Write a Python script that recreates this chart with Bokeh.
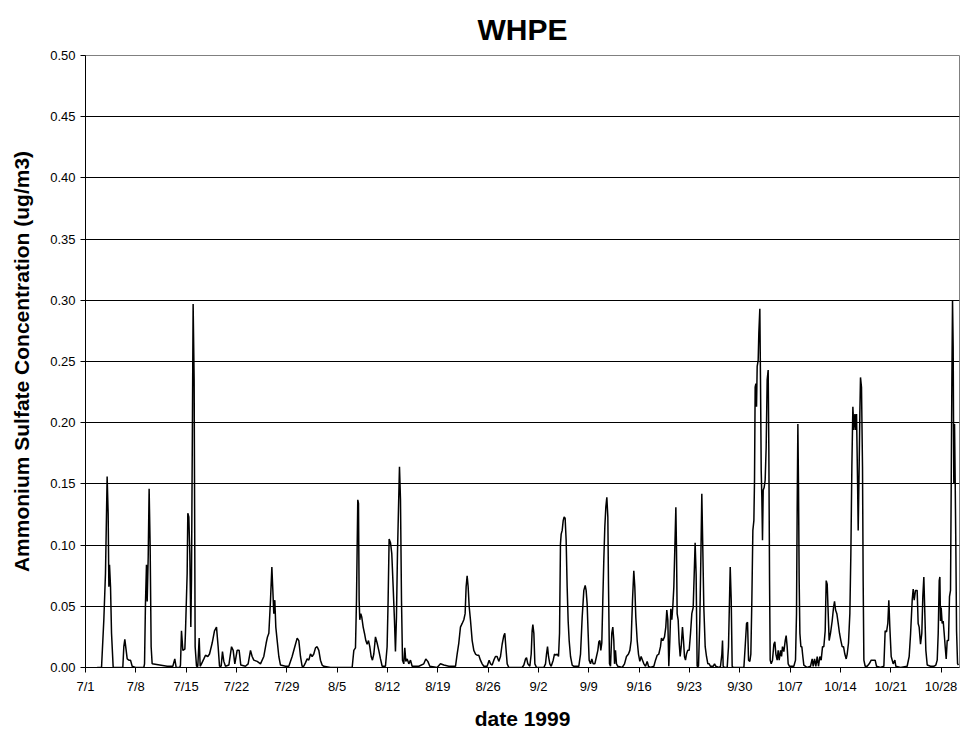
from bokeh.plotting import figure
from bokeh.models import FixedTicker, Range1d, ColumnDataSource
from bokeh.embed import file_html
from bokeh.resources import INLINE

# days since 7/1/1999 00:00
days = [
    1.62, 2.23, 2.55, 2.78, 3.01, 3.15, 3.25, 3.34, 3.48, 3.62, 3.85, 5.19, 5.33, 5.47, 5.80, 6.03, 6.26, 6.49, 6.95,
    8.11, 8.21, 8.34, 8.48, 8.58, 8.72, 8.85, 8.99, 9.13, 9.27, 11.36, 12.15, 12.42, 12.61, 13.12, 13.21, 13.35, 13.54,
    13.82, 13.91, 14.14, 14.23, 14.37, 14.51, 14.65, 14.74, 14.88, 14.97, 15.11, 15.25, 15.44, 15.62, 15.81, 15.95,
    16.13, 16.46, 16.69, 17.01, 17.25, 17.62, 17.94, 18.22, 18.45, 18.64, 18.87, 19.05, 19.24, 19.47, 19.94, 20.31,
    20.54, 20.77, 21.09, 21.37, 21.60, 22.25, 22.62, 22.95, 23.18, 23.41, 23.88, 24.34, 24.80, 25.13, 25.31, 25.50,
    25.73, 25.92, 26.05, 26.19, 26.33, 26.47, 26.66, 26.89, 27.12, 27.82, 28.28, 28.74, 29.11, 29.44, 29.67, 29.90,
    30.13, 30.36, 30.60, 30.83, 31.06, 31.29, 31.52, 31.75, 31.99, 32.22, 32.45, 32.68, 32.91, 33.15, 34.07, 37.09,
    37.32, 37.55, 37.69, 37.78, 37.87, 37.97, 38.06, 38.15, 38.29, 38.43, 38.62, 38.80, 38.99, 39.17, 39.36, 39.54,
    39.73, 39.91, 40.10, 40.33, 40.56, 40.79, 41.03, 41.26, 41.72, 41.95, 42.09, 42.23, 42.42, 42.60, 42.79, 42.97,
    43.11, 43.25, 43.39, 43.53, 43.67, 43.81, 43.95, 44.09, 44.27, 44.41, 44.55, 44.74, 44.97, 45.20, 45.43, 46.36,
    47.05, 47.33, 47.61, 47.89, 48.91, 49.37, 49.84, 50.53, 51.46, 51.69, 51.92, 52.15, 52.39, 52.62, 52.80, 52.94,
    53.08, 53.22, 53.36, 53.54, 53.78, 54.01, 54.24, 54.47, 54.70, 54.93, 55.17, 55.40, 55.86, 56.14, 56.33, 56.56,
    56.79, 57.02, 57.25, 57.48, 57.72, 57.95, 58.18, 58.32, 58.46, 58.65, 58.88, 60.73, 60.97, 61.20, 61.34, 61.52,
    61.80, 61.99, 62.12, 62.22, 62.36, 62.50, 62.73, 63.75, 63.98, 64.12, 64.26, 64.40, 64.58, 64.77, 65.05, 65.23,
    65.42, 65.60, 65.79, 65.93, 66.06, 66.16, 66.30, 66.44, 66.57, 66.71, 66.85, 66.99, 67.13, 67.27, 67.46, 67.69,
    67.92, 68.61, 68.85, 69.08, 69.31, 69.50, 69.63, 69.77, 69.91, 70.05, 70.24, 70.42, 70.61, 70.84, 71.07, 71.26,
    71.40, 71.54, 71.67, 71.81, 71.95, 72.09, 72.23, 72.37, 72.51, 72.65, 72.74, 72.88, 73.02, 73.20, 73.34, 73.48,
    73.58, 73.71, 73.85, 74.04, 74.64, 74.97, 75.24, 75.52, 75.71, 75.89, 76.08, 76.26, 76.40, 76.54, 76.73, 76.91,
    77.10, 77.28, 77.47, 77.66, 77.89, 78.12, 78.30, 78.58, 79.05, 79.28, 79.51, 79.74, 79.97, 80.11, 80.30, 80.53,
    80.71, 80.85, 80.99, 81.13, 81.27, 81.41, 81.55, 81.69, 81.83, 81.97, 82.11, 82.20, 82.29, 82.43, 82.57, 82.71,
    82.85, 83.03, 83.17, 83.31, 83.45, 83.59, 83.77, 83.96, 84.15, 84.33, 84.52, 84.66, 84.79, 84.93, 85.07, 85.26,
    85.44, 85.58, 85.72, 85.86, 86.00, 86.19, 86.37, 86.56, 86.74, 86.93, 87.30, 87.49, 87.67, 88.09, 88.32, 88.51,
    88.60, 88.69, 88.88, 89.25, 89.43, 89.57, 89.67, 89.81, 89.94, 90.08, 91.57, 91.75, 91.94, 92.08, 92.22, 92.40,
    92.54, 92.68, 92.82, 92.96, 93.05, 93.14, 93.24, 93.33, 93.42, 93.56, 93.65, 93.79, 93.88, 93.98, 94.07, 94.16,
    94.26, 94.39, 94.53, 94.67, 94.81, 94.95, 95.04, 95.14, 95.23, 95.37, 95.55, 95.74, 95.88, 96.02, 96.20, 96.34,
    96.48, 96.67, 96.81, 96.94, 97.13, 97.32, 97.45, 97.59, 97.73, 97.92, 98.52, 98.75, 98.89, 98.98, 99.08, 99.17,
    99.26, 99.36, 99.50, 99.63, 99.77, 99.91, 100.38, 100.84, 101.07, 101.21, 101.40, 101.58, 101.77, 101.95, 102.14,
    102.32, 102.51, 102.69, 102.88, 103.02, 103.16, 103.30, 103.43, 103.62, 103.85, 104.04, 104.18, 104.32, 104.50,
    104.69, 104.87, 105.06, 105.24, 105.43, 105.61, 105.80, 105.94, 106.12, 106.31, 106.45, 106.59, 106.73, 106.87,
    107.01, 107.14, 107.24, 107.38, 107.47, 107.61, 107.70, 107.79, 107.93, 108.07, 108.16, 108.26, 108.44, 108.72,
    109.00, 109.28, 109.55, 109.83, 110.02, 110.57, 111.04, 111.22, 111.41, 111.59, 111.73, 111.87, 112.06, 112.34,
    112.57, 112.71, 113.36, 114.28, 114.56, 114.75, 114.98, 115.12, 115.26, 115.44, 115.67, 115.81, 115.95, 116.14,
    116.32, 116.46, 116.60, 116.74, 116.88, 117.07, 117.53, 117.99, 118.27, 118.46, 118.60, 118.74, 118.83, 118.92,
    119.01, 119.15, 119.29, 119.43, 119.57, 119.71, 119.85, 120.03, 120.17, 120.31, 120.40, 120.50, 120.59, 120.68,
    120.77, 120.87, 120.96, 121.05, 121.15, 121.29, 121.42,
]

# ammonium sulfate concentration (ug/m3)
conc = [
    0.000, 0.000, 0.039, 0.077, 0.156, 0.126, 0.066, 0.084, 0.066, 0.028, 0.000, 0.000, 0.017, 0.023, 0.007, 0.006, 0.006, 0.001, 0.000,
    0.000, 0.003, 0.052, 0.084, 0.054, 0.090, 0.146, 0.099, 0.017, 0.003, 0.001, 0.001, 0.007, 0.000, 0.000, 0.002, 0.030, 0.014,
    0.015, 0.030, 0.077, 0.126, 0.123, 0.093, 0.033, 0.071, 0.208, 0.297, 0.235, 0.017, 0.001, 0.001, 0.024, 0.001,
    0.003, 0.007, 0.010, 0.009, 0.011, 0.020, 0.030, 0.033, 0.017, 0.001, 0.001, 0.013, 0.005, 0.001, 0.002, 0.017,
    0.014, 0.003, 0.014, 0.014, 0.002, 0.001, 0.003, 0.014, 0.009, 0.006, 0.005, 0.003, 0.009, 0.020, 0.025, 0.028,
    0.055, 0.082, 0.064, 0.044, 0.055, 0.033, 0.022, 0.009, 0.002, 0.001, 0.001, 0.009, 0.017, 0.024, 0.022, 0.009,
    0.001, 0.001, 0.004, 0.007, 0.006, 0.011, 0.009, 0.011, 0.016, 0.017, 0.014, 0.006, 0.002, 0.001, 0.000, 0.000,
    0.014, 0.016, 0.055, 0.096, 0.137, 0.134, 0.055, 0.039, 0.044, 0.041, 0.033, 0.028, 0.022, 0.019, 0.022, 0.017,
    0.009, 0.006, 0.011, 0.025, 0.020, 0.014, 0.007, 0.001, 0.001, 0.017, 0.055, 0.105, 0.102, 0.093, 0.066, 0.039,
    0.013, 0.041, 0.093, 0.129, 0.164, 0.137, 0.055, 0.006, 0.003, 0.016, 0.005, 0.007, 0.003, 0.006, 0.001, 0.001,
    0.003, 0.007, 0.005, 0.001, 0.000, 0.003, 0.002, 0.001, 0.001, 0.011, 0.020, 0.033, 0.036, 0.039, 0.044, 0.066,
    0.075, 0.066, 0.050, 0.039, 0.022, 0.014, 0.011, 0.010, 0.010, 0.006, 0.003, 0.001, 0.001, 0.006, 0.003, 0.002,
    0.006, 0.009, 0.009, 0.005, 0.009, 0.019, 0.026, 0.028, 0.017, 0.003, 0.000, 0.000, 0.002, 0.007, 0.008, 0.003,
    0.001, 0.011, 0.030, 0.035, 0.028, 0.003, 0.000, 0.000, 0.003, 0.011, 0.017, 0.009, 0.003, 0.001, 0.006, 0.011,
    0.010, 0.011, 0.009, 0.028, 0.101, 0.109, 0.112, 0.120, 0.123, 0.122, 0.104, 0.066, 0.038, 0.022, 0.009, 0.002,
    0.001, 0.001, 0.011, 0.041, 0.063, 0.067, 0.063, 0.052, 0.028, 0.006, 0.003, 0.007, 0.003, 0.003, 0.009, 0.014,
    0.021, 0.022, 0.014, 0.020, 0.055, 0.088, 0.115, 0.131, 0.139, 0.123, 0.068, 0.003, 0.001, 0.028, 0.033, 0.022,
    0.003, 0.014, 0.003, 0.001, 0.000, 0.003, 0.009, 0.011, 0.014, 0.022, 0.055, 0.079, 0.066, 0.041, 0.022, 0.011,
    0.005, 0.009, 0.006, 0.003, 0.001, 0.005, 0.001, 0.000, 0.001, 0.006, 0.010, 0.011, 0.017, 0.024, 0.022, 0.025,
    0.033, 0.047, 0.039, 0.001, 0.022, 0.048, 0.039, 0.050, 0.066, 0.098, 0.131, 0.096, 0.044, 0.039, 0.020, 0.009,
    0.017, 0.033, 0.022, 0.009, 0.006, 0.011, 0.014, 0.014, 0.028, 0.044, 0.049, 0.076, 0.102, 0.076, 0.001, 0.001,
    0.038, 0.087, 0.142, 0.096, 0.049, 0.017, 0.009, 0.003, 0.003, 0.001, 0.001, 0.003, 0.001, 0.000, 0.001, 0.011,
    0.022, 0.001, 0.000, 0.000, 0.017, 0.055, 0.082, 0.055, 0.001, 0.000, 0.000, 0.017, 0.036, 0.037, 0.006, 0.005,
    0.011, 0.055, 0.112, 0.120, 0.153, 0.229, 0.232, 0.213, 0.246, 0.251, 0.273, 0.293, 0.235, 0.161, 0.139, 0.104,
    0.145, 0.147, 0.153, 0.180, 0.235, 0.243, 0.180, 0.071, 0.006, 0.003, 0.006, 0.019, 0.021, 0.011, 0.006, 0.014,
    0.006, 0.014, 0.009, 0.017, 0.013, 0.022, 0.026, 0.017, 0.003, 0.001, 0.001, 0.006, 0.044, 0.126, 0.199, 0.147,
    0.071, 0.028, 0.017, 0.017, 0.009, 0.002, 0.000, 0.001, 0.007, 0.001, 0.007, 0.001, 0.009, 0.001, 0.009,
    0.006, 0.017, 0.017, 0.030, 0.071, 0.068, 0.044, 0.022, 0.028, 0.038, 0.049, 0.054, 0.047, 0.044,
    0.036, 0.028, 0.022, 0.017, 0.017, 0.011, 0.007, 0.011, 0.020, 0.044, 0.093, 0.164, 0.213, 0.194,
    0.207, 0.194, 0.207, 0.153, 0.112, 0.167, 0.207, 0.237, 0.229, 0.164, 0.071, 0.006, 0.001, 0.001,
    0.003, 0.006, 0.006, 0.006, 0.001, 0.000, 0.001, 0.030, 0.029, 0.036, 0.055, 0.033, 0.009, 0.003,
    0.006, 0.001, 0.000, 0.001, 0.009, 0.027, 0.055, 0.064, 0.055, 0.063, 0.063, 0.036, 0.033, 0.019,
    0.028, 0.058, 0.074, 0.044, 0.014, 0.002, 0.001, 0.001, 0.002, 0.006, 0.028, 0.071, 0.074, 0.038,
    0.049, 0.036, 0.038, 0.028, 0.017, 0.007, 0.022, 0.022, 0.058, 0.063, 0.142, 0.235, 0.300, 0.262,
    0.150, 0.199, 0.153, 0.099, 0.030, 0.003, 0.002,
]

tick_days = [0, 7, 14, 21, 28, 35, 42, 49, 56, 63, 70, 77, 84, 91, 98, 105, 112, 119]
tick_labels = ["7/1", "7/8", "7/15", "7/22", "7/29", "8/5", "8/12", "8/19", "8/26", "9/2",
               "9/9", "9/16", "9/23", "9/30", "10/7", "10/14", "10/21", "10/28"]
y_ticks = [0.0, 0.05, 0.10, 0.15, 0.20, 0.25, 0.30, 0.35, 0.40, 0.45, 0.50]

FONT = "Liberation Sans"

p = figure(width=963, height=733, output_backend="svg", toolbar_location=None,
           x_range=Range1d(0, 121.56), y_range=Range1d(0, 0.5),
           min_border_left=85, min_border_right=4, min_border_top=55, min_border_bottom=66,
           title="WHPE")
p.background_fill_color = "white"
p.border_fill_color = "white"
p.outline_line_color = "#808080"

p.title.align = "center"
p.title.text_font = FONT
p.title.text_font_size = "30px"
p.title.text_font_style = "bold"
p.title.text_color = "black"
p.title.standoff = 19

src = ColumnDataSource(data=dict(x=days, y=conc))
p.line("x", "y", source=src, line_color="black", line_width=1.5)

# x axis
p.xaxis.ticker = FixedTicker(ticks=tick_days)
p.xaxis.major_label_overrides = {d: l for d, l in zip(tick_days, tick_labels)}
p.xaxis.axis_label = "date 1999"
p.xaxis.minor_tick_line_color = None
p.xaxis.major_tick_in = 0
p.xaxis.major_tick_out = 5
p.xaxis.major_label_standoff = 6
p.xaxis.axis_label_standoff = 10

# y axis
p.yaxis.ticker = FixedTicker(ticks=y_ticks)
p.yaxis.major_label_overrides = {t: f"{t:.2f}" for t in y_ticks}
p.yaxis.axis_label = "Ammonium Sulfate Concentration (ug/m3)"
p.yaxis.minor_tick_line_color = None
p.yaxis.major_tick_in = 0
p.yaxis.major_tick_out = 5
p.yaxis.major_label_standoff = 5
p.yaxis.axis_label_standoff = 14

for ax in (p.xaxis, p.yaxis):
    ax.axis_line_color = "black"
    ax.major_tick_line_color = "black"
    ax.major_label_text_font = FONT
    ax.major_label_text_font_size = "13px"
    ax.major_label_text_color = "black"
    ax.axis_label_text_font = FONT
    ax.axis_label_text_font_size = "21px"
    ax.axis_label_text_font_style = "bold"
    ax.axis_label_text_color = "black"

p.xgrid.grid_line_color = None
p.ygrid.ticker = FixedTicker(ticks=y_ticks)
p.ygrid.grid_line_color = "black"
p.ygrid.grid_line_width = 1

open("out.html", "w").write(file_html(p, INLINE))
